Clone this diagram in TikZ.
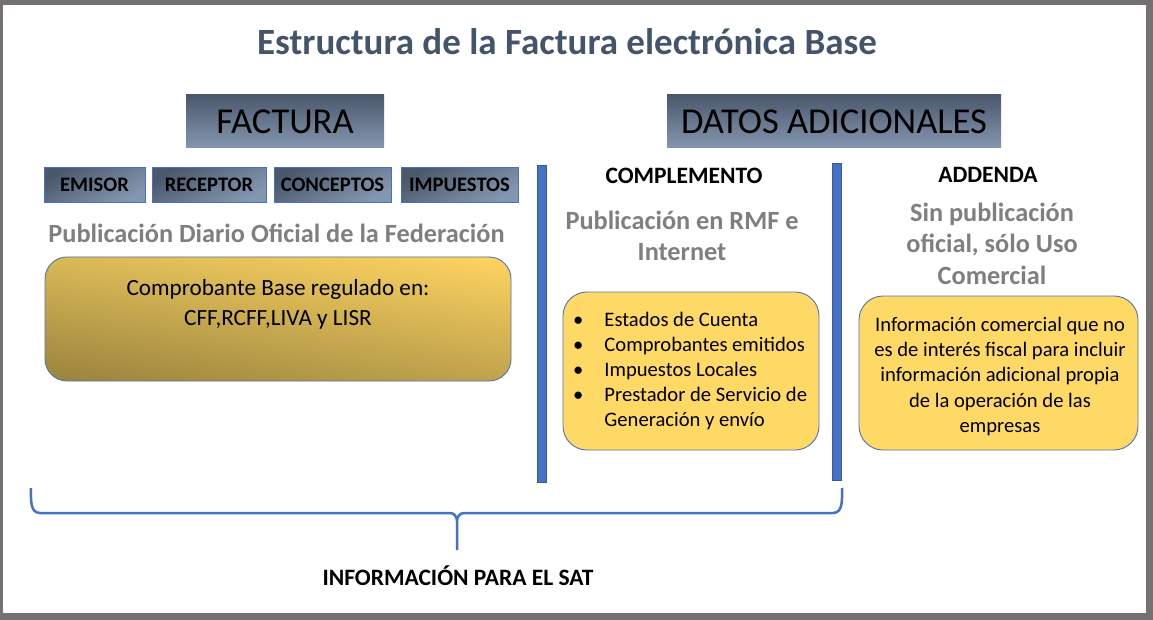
\documentclass[tikz,border=0pt]{standalone}
\usepackage{fontspec}
\setmainfont{Carlito}
\usetikzlibrary{shadings}
\definecolor{titulo}{HTML}{44546A}
\definecolor{pizarra}{HTML}{4B586C}
\definecolor{pizarraclara}{HTML}{8497B0}
\definecolor{azul}{HTML}{4472C4}
\definecolor{gris}{HTML}{7F7F7F}
\definecolor{oro}{HTML}{FFD966}
\definecolor{marco}{HTML}{767171}

\begin{document}
\begin{tikzpicture}[x=1pt, y=-1pt, every node/.style={inner sep=0pt},
  cabecera/.style={top color=pizarra, bottom color=pizarraclara, minimum height=53pt,
    font=\fontsize{36.5}{42}\selectfont},
  pieza/.style={draw=azul, line width=1pt, top color=pizarra, bottom color=pizarraclara,
    shading angle=30, minimum height=35pt, font=\fontsize{20.6}{24}\selectfont\bfseries},
  seccion/.style={font=\fontsize{23.5}{27}\selectfont\bfseries},
  publica/.style={text=gris, align=center, font=\fontsize{26.3}{31.5}\selectfont\bfseries},
  caja/.style={draw=azul!80!gray, line width=0.9pt, fill=oro, rounded corners=24pt},
  nota/.style={font=\fontsize{20.6}{25.2}\selectfont}]
\useasboundingbox (0,0) rectangle (1153,620);
\fill[marco] (0,0) rectangle (1153,620);
\fill[white] (3,5) rectangle (1146,613);

\node[text=titulo, font=\fontsize{37}{42}\selectfont\bfseries] (titulo) at (567,42)
  {Estructura de la Factura electrónica Base};

% cabeceras
\node[cabecera, minimum width=198pt] (factura) at (285,121.5) {FACTURA};
\node[cabecera, minimum width=334pt] (datos) at (834,121.5) {DATOS ADICIONALES};

% nodos de la factura
\foreach \n/\x/\w/\t in {1/94.5/101/EMISOR, 2/209/114/RECEPTOR,
                          3/332.5/117/CONCEPTOS, 4/459.5/117/IMPUESTOS}
  \node[pieza, minimum width=\w pt] (p\n) at (\x,185) {\t};

\node[publica] (dof) at (276.5,233) {Publicación Diario Oficial de la Federación};
\node[caja, draw=azul!70!gray, rounded corners=22pt, minimum width=466pt, minimum height=124pt,
  upper left=oro!85!black, upper right=oro!95!orange, lower left=oro!60!black,
  lower right=oro!75!black] (base) at (278,319) {};
\node[align=center, font=\fontsize{23.2}{30}\selectfont] (basetxt) at (278,304)
  {Comprobante Base regulado en:\\CFF,RCFF,LIVA y LISR};

% separadores
\fill[azul, draw=azul!80!black, line width=0.5pt] (537,165) rectangle (546,482);
\fill[azul, draw=azul!80!black, line width=0.5pt] (832,163) rectangle (841,480);

% complemento
\node[seccion] (compl) at (684,176) {COMPLEMENTO};
\node[publica] (rmf) at (682,236) {Publicación en RMF e\\Internet};
\node[caja, minimum width=256pt, minimum height=158pt] (cajac) at (691,371) {};
\node[nota, anchor=west] (lista) at (573,371.5)
  {\renewcommand{\arraystretch}{1}\begin{tabular}{@{}l@{\hspace{21pt}}l@{}}
   \textbullet & Estados de Cuenta\\
   \textbullet & Comprobantes emitidos\\
   \textbullet & Impuestos Locales\\
   \textbullet & Prestador de Servicio de\\
               & Generación y envío
   \end{tabular}};

% addenda
\node[seccion] (adenda) at (988,175) {ADDENDA};
\node[publica] (uso) at (992,243.5) {Sin publicación\\oficial, sólo Uso\\Comercial};
\node[caja, minimum width=279pt, minimum height=154pt] (cajaa) at (998.5,373) {};
\node[nota, align=center] (adtxt) at (1000,376.5)
  {Información comercial que no\\es de interés fiscal para incluir\\información adicional propia\\
   de la operación de las\\empresas};

% llave
\coordinate (pico) at (457,550);
\draw[azul, line width=2.5pt] (31,488) to[out=-90, in=180] (40,513) -- (450,513)
  to[out=0, in=90] (pico |- 0,521) -- (pico)
  (pico |- 0,521) to[out=90, in=180] (464,513) -- (833,513) to[out=0, in=-90] (842,488);
\node[font=\fontsize{23.5}{27}\selectfont\bfseries] (sat) at (458,576) {INFORMACIÓN PARA EL SAT};
\end{tikzpicture}
\end{document}
